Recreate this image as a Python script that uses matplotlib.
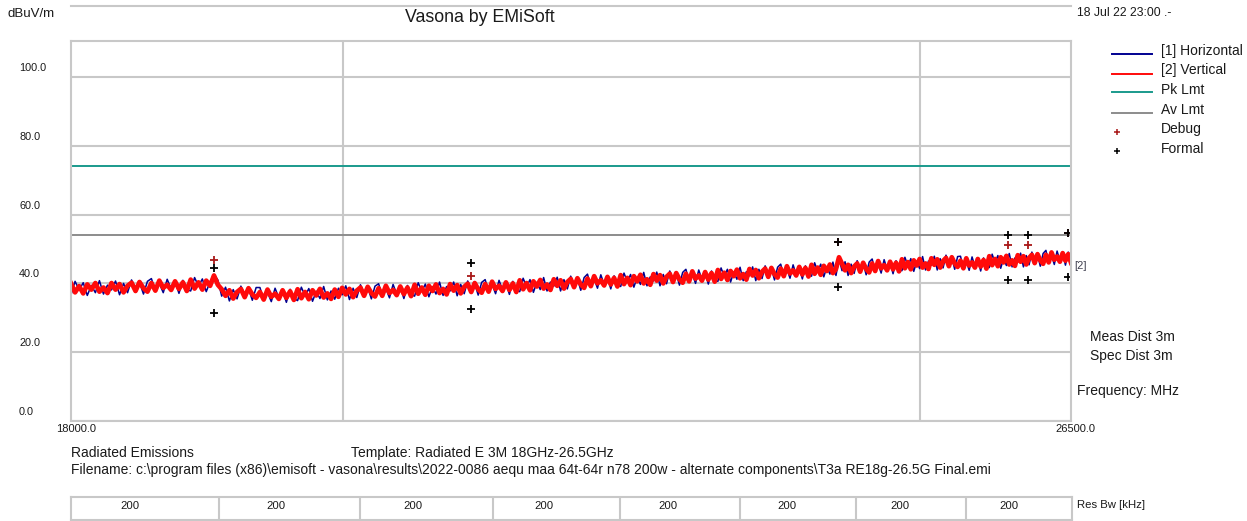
import numpy as np
import matplotlib
matplotlib.use("Agg")
import matplotlib.pyplot as plt
from matplotlib.lines import Line2D
from matplotlib.ticker import FixedLocator, NullLocator, NullFormatter

plt.rcParams['font.family'] = ['Liberation Sans', 'DejaVu Sans']

# ---------------- data ----------------
f_start, f_stop = 18000.0, 26500.0          # MHz
pk_limit = 74.0                              # dBuV/m
av_limit = 54.0                              # dBuV/m

# [2] Vertical sweep (dBuV/m), equally spaced across the span
vert_dbuv = [
    40.0, 37.4, 39.2, 37.1, 39.7, 38.2, 40.1, 37.6, 38.8, 37.2,
    40.1, 38.2, 39.8, 37.4, 39.3, 40.2, 37.8, 40.4, 38.6, 37.6,
    40.1, 37.9, 40.8, 38.7, 39.6, 38.1, 40.6, 38.4, 40.3, 37.8,
    41.1, 38.5, 40.3, 38.2, 40.8, 39.3, 42.3, 39.6,
    38.3, 36.4, 38.0, 35.6, 37.5, 38.4, 36.0, 38.6, 36.8, 35.8,
    37.5, 35.3, 38.2, 36.1, 37.0, 35.5, 38.0, 35.8, 37.7, 35.2,
    38.3, 35.7, 37.5, 35.4, 38.0, 36.5, 38.4, 35.9, 37.1, 35.5, 38.2, 36.1,
    38.7, 36.8, 38.4, 36.0, 37.9, 38.8, 36.4, 39.0, 37.2, 36.2,
    38.6, 36.4, 39.3, 37.2, 38.1, 36.6, 39.1, 36.9, 38.8, 36.3,
    39.6, 37.0, 38.8, 36.7, 39.3, 37.8, 39.7, 37.2, 38.4, 36.8,
    39.8, 37.9, 39.5, 37.1, 39.0, 39.9, 37.5, 40.1, 38.3, 37.3,
    39.8, 37.6, 40.5, 38.4, 39.3, 37.8, 40.3, 38.1, 40.0, 37.5,
    40.9, 38.3, 40.1, 38.0, 40.6, 39.1, 41.0, 38.5, 39.7, 38.1,
    41.2, 39.3, 40.9, 38.5, 40.4, 41.3, 38.9, 41.5, 39.7, 38.7,
    41.4, 39.2, 42.1, 40.0, 40.9, 39.4, 41.9, 39.7, 41.6, 39.1,
    42.4, 39.8, 41.6, 39.5, 42.1, 40.6, 42.5, 40.0, 41.2, 39.6,
    42.7, 40.8, 42.4, 40.0, 41.9, 42.8, 40.4, 43.0, 41.2, 40.2,
    42.8, 40.6, 43.5, 41.4, 42.3, 40.8, 43.3, 41.1, 43.0, 40.5,
    43.9, 41.3, 43.1, 41.0, 43.6, 42.1, 44.0, 41.5, 42.7, 41.1,
    44.2, 42.3, 43.9, 41.5, 43.4, 44.3, 41.9, 44.5, 42.7, 41.7,
    44.3, 42.1, 45.0, 42.9, 43.8, 42.3, 44.8, 42.6, 44.5, 42.0,
    45.4, 42.8, 44.6, 42.5, 45.1, 43.6, 45.5, 43.0, 44.2, 47.6,
    45.7, 43.8, 45.4, 43.0, 44.9, 45.8, 43.4, 46.0, 44.2, 43.2,
    45.8, 43.6, 46.5, 44.4, 45.3, 43.8, 46.3, 44.1, 46.0, 43.5,
    47.0, 44.4, 46.2, 44.1, 46.7, 45.2, 47.1, 44.6, 45.8, 44.2,
    47.3, 45.4, 47.0, 44.6, 46.5, 47.4, 45.0, 47.6, 45.8, 44.8,
    46.6, 44.4, 47.3, 45.2, 46.1, 44.6, 47.1, 44.9, 46.8, 44.3,
    47.9, 45.3, 47.1, 45.0, 47.6, 46.1, 48.0, 45.5, 46.7, 45.1,
    48.2, 46.3, 47.9, 45.5, 47.4, 48.3, 45.9, 48.5, 46.7, 45.7,
    48.3, 46.1, 49.0, 46.9, 47.8, 46.3, 48.8, 46.6, 48.5, 46.0,
]

# [1] Horizontal sweep (dBuV/m)
horiz_dbuv = [
    36.7, 40.6, 38.1, 40.2, 36.5, 39.4, 37.3, 40.8, 36.9, 39.5,
    38.1, 40.7, 36.7, 40.0, 37.3, 41.0, 38.6, 40.3, 36.9, 40.6,
    41.4, 37.8, 40.0, 37.3, 41.2, 38.4, 40.5, 37.1, 40.9, 38.2,
    37.8, 41.7, 39.2, 41.3, 37.6, 40.5, 42.6, 41.0,
    36.3, 38.9, 34.9, 38.2, 35.5, 39.2, 36.8, 38.5, 35.1, 38.8,
    38.8, 35.2, 37.4, 34.7, 38.6, 35.8, 37.9, 34.5, 38.3, 35.6,
    35.0, 38.9, 36.4, 38.5, 34.8, 37.7, 35.6, 39.1, 35.2, 37.8, 35.4, 38.6,
    36.7, 39.3, 35.3, 38.6, 35.9, 39.6, 37.2, 38.9, 35.5, 39.2,
    39.9, 36.3, 38.5, 35.8, 39.7, 36.9, 39.0, 35.6, 39.4, 36.7,
    36.3, 40.2, 37.7, 39.8, 36.1, 39.0, 36.9, 40.4, 36.5, 39.1,
    37.8, 40.4, 36.4, 39.7, 37.0, 40.7, 38.3, 40.0, 36.6, 40.3,
    41.1, 37.5, 39.7, 37.0, 40.9, 38.1, 40.2, 36.8, 40.6, 37.9,
    37.6, 41.5, 39.0, 41.1, 37.4, 40.3, 38.2, 41.7, 37.8, 40.4,
    39.2, 41.8, 37.8, 41.1, 38.4, 42.1, 39.7, 41.4, 38.0, 41.7,
    42.7, 39.1, 41.3, 38.6, 42.5, 39.7, 41.8, 38.4, 42.2, 39.5,
    39.1, 43.0, 40.5, 42.6, 38.9, 41.8, 39.7, 43.2, 39.3, 41.9,
    40.7, 43.3, 39.3, 42.6, 39.9, 43.6, 41.2, 42.9, 39.5, 43.2,
    44.1, 40.5, 42.7, 40.0, 43.9, 41.1, 43.2, 39.8, 43.6, 40.9,
    40.6, 44.5, 42.0, 44.1, 40.4, 43.3, 41.2, 44.7, 40.8, 43.4,
    42.2, 44.8, 40.8, 44.1, 41.4, 45.1, 42.7, 44.4, 41.0, 44.7,
    45.6, 42.0, 44.2, 41.5, 45.4, 42.6, 44.7, 41.3, 45.1, 42.4,
    42.1, 46.0, 43.5, 45.6, 41.9, 44.8, 42.7, 46.2, 42.3, 47.2,
    43.7, 46.3, 42.3, 45.6, 42.9, 46.6, 44.2, 45.9, 42.5, 46.2,
    47.1, 43.5, 45.7, 43.0, 46.9, 44.1, 46.2, 42.8, 46.6, 43.9,
    43.7, 47.6, 45.1, 47.2, 43.5, 46.4, 44.3, 47.8, 43.9, 46.5,
    45.3, 47.9, 43.9, 47.2, 44.5, 48.2, 45.8, 47.5, 44.1, 47.8,
    47.9, 44.3, 46.5, 43.8, 47.7, 44.9, 47.0, 43.6, 47.4, 44.7,
    44.6, 48.5, 46.0, 48.1, 44.4, 47.3, 45.2, 48.7, 44.8, 47.4,
    46.2, 48.8, 44.8, 48.1, 45.4, 49.1, 46.7, 48.4, 45.0, 48.7,
    49.6, 46.0, 48.2, 45.5, 49.4, 46.6, 48.7, 45.3, 49.1, 46.4,
]

# Debug and formal measurement points (MHz, dBuV/m)
debug_mhz = [19024, 21009, 24216, 25860, 26066, 26466]
debug_dbuv = [46.8, 42.2, 52.0, 51.2, 51.2, 54.6]

formal_mhz = [19024, 19024, 21009, 21009, 24216, 24216,
              25860, 25860, 26066, 26066, 26466, 26466]
formal_dbuv = [44.6, 31.4, 45.8, 32.5, 52.0, 38.9,
               54.1, 41.0, 54.1, 41.0, 54.6, 42.0]

# Resolution bandwidth per sub-range
rbw_edges_mhz = [18000.0, 19062.5, 20125.0, 21187.5, 22250.0,
                 23312.5, 24375.0, 25437.5, 26500.0]
rbw_khz = [200, 200, 200, 200, 200, 200, 200, 200]

y_ticks = [0.0, 20.0, 40.0, 60.0, 80.0, 100.0]
x_grid = [20000, 25000]

# ---------------- style ----------------
C_H = '#000090'
C_V = '#ff0a0a'
C_PK = '#1a9a8c'
C_AV = '#8c8c8c'
C_GRID = '#c8c8c8'
C_DEBUG = '#a81818'
C_TXT = '#1a1a1a'

W, H = 1247, 521
fig = plt.figure(figsize=(W / 100, H / 100), dpi=100)
fig.patch.set_facecolor('white')


def fx(px):
    return px / W


def fy(py):
    return 1 - py / H


def ftext(px, py, s, size=10, ha='left', va='center', **kw):
    fig.text(fx(px), fy(py), s, fontsize=size, ha=ha, va=va,
             color=kw.pop('color', C_TXT), **kw)


# main axes
ax_l, ax_r, ax_t, ax_b = 71, 1071, 41, 421
ax = fig.add_axes([fx(ax_l), fy(ax_b), (ax_r - ax_l) / W, (ax_b - ax_t) / H])
ax.set_xscale('log')
ax.set_xlim(f_start, f_stop)
ax.set_ylim(0, (ax_b - ax_t) / 3.44)
ax.xaxis.set_major_locator(FixedLocator(x_grid))
ax.xaxis.set_minor_locator(NullLocator())
ax.xaxis.set_major_formatter(NullFormatter())
ax.xaxis.set_minor_formatter(NullFormatter())
ax.yaxis.set_major_locator(FixedLocator(y_ticks))
ax.yaxis.set_major_formatter(NullFormatter())
ax.tick_params(length=0)
ax.grid(True, color=C_GRID, lw=1.5)
ax.set_axisbelow(True)
for sp in ax.spines.values():
    sp.set_color(C_GRID)
    sp.set_linewidth(1.5)

freq = np.linspace(f_start, f_stop, len(vert_dbuv))
freq_h = np.linspace(f_start, f_stop, len(horiz_dbuv))

ax.axhline(pk_limit, color=C_PK, lw=1.4)
ax.axhline(av_limit, color=C_AV, lw=1.4)
ax.plot(freq_h, horiz_dbuv, color=C_H, lw=1.1)
ax.plot(freq, vert_dbuv, color=C_V, lw=3.4, solid_joinstyle='round')
ax.plot(debug_mhz, debug_dbuv, '+', color=C_DEBUG, ms=6, mew=1.3, clip_on=False)
ax.plot(formal_mhz, formal_dbuv, '+', color='black', ms=6, mew=1.3, clip_on=False)

# y labels (sit just above their grid lines)
for v in y_ticks:
    ypx = ax_b - v * 3.44 - 9
    ftext(19, ypx, f"{v:.1f}", size=7.8)

ftext(76, 429, f"{f_start:.1f}", size=8, ha='center')
ftext(1075, 429, f"{f_stop:.1f}", size=8, ha='center')
ftext(1074, 266, "[2]", size=8, color='#404050')

# top rule
fig.add_artist(Line2D([fx(71), fx(1071)], [fy(6), fy(6)], color=C_GRID, lw=1.5))

ftext(8, 14, "dBuV/m", size=9.5)
ftext(480, 18, "Vasona by EMiSoft", size=12.8, ha='center')
ftext(1077, 13, "18 Jul 22 23:00 .-", size=8.8)

# legend
leg = [("[1] Horizontal", 'line', C_H), ("[2] Vertical", 'line', C_V),
       ("Pk Lmt", 'line', C_PK), ("Av Lmt", 'line', C_AV),
       ("Debug", 'mark', C_DEBUG), ("Formal", 'mark', 'black')]
leg_line_y = [54, 73.5, 92.5, 113, 131.5, 150.5]
leg_text_y = [50.5, 70, 90.5, 110, 129, 149]
for (lab, kind, col), ly, ty in zip(leg, leg_line_y, leg_text_y):
    if kind == 'line':
        fig.add_artist(Line2D([fx(1112), fx(1152)], [fy(ly), fy(ly)], color=col, lw=1.4))
    else:
        fig.add_artist(Line2D([fx(1117)], [fy(ly)], marker='+', color=col, ms=5, mew=1.1, ls='none'))
    ftext(1161, ty, lab, size=10)

ftext(1090, 337, "Meas Dist 3m", size=10)
ftext(1090, 356, "Spec Dist 3m", size=10)
ftext(1077, 391, "Frequency: MHz", size=10)

ftext(71, 453, "Radiated Emissions", size=10)
ftext(351, 453, "Template: Radiated E 3M 18GHz-26.5GHz", size=10)
ftext(71, 470, r"Filename: c:\program files (x86)\emisoft - vasona\results\2022-0086 aequ maa 64t-64r n78 200w - alternate components\T3a RE18g-26.5G Final.emi", size=10)

# resolution bandwidth strip
t_top, t_bot = 497, 519.5
axt = fig.add_axes([fx(ax_l), fy(t_bot), (1072 - ax_l) / W, (t_bot - t_top) / H])
axt.set_xscale('log')
axt.set_xlim(f_start, f_stop)
axt.set_ylim(0, 1)
axt.set_xticks([])
axt.set_yticks([])
axt.xaxis.set_minor_locator(NullLocator())
for sp in axt.spines.values():
    sp.set_color(C_GRID)
    sp.set_linewidth(1.5)
for e in rbw_edges_mhz[1:-1]:
    axt.axvline(e, color=C_GRID, lw=1.5)
span = np.log(f_stop / f_start)
for lo, hi, bw in zip(rbw_edges_mhz[:-1], rbw_edges_mhz[1:], rbw_khz):
    l = np.log(lo / f_start) / span
    r = np.log(hi / f_start) / span
    axt.text(l + 0.4 * (r - l), 0.62, str(bw), transform=axt.transAxes,
             ha='center', va='center', fontsize=8.2, color=C_TXT)
ftext(1077, 505, "Res Bw [kHz]", size=8.2)

fig.savefig("out.png", dpi=100)
